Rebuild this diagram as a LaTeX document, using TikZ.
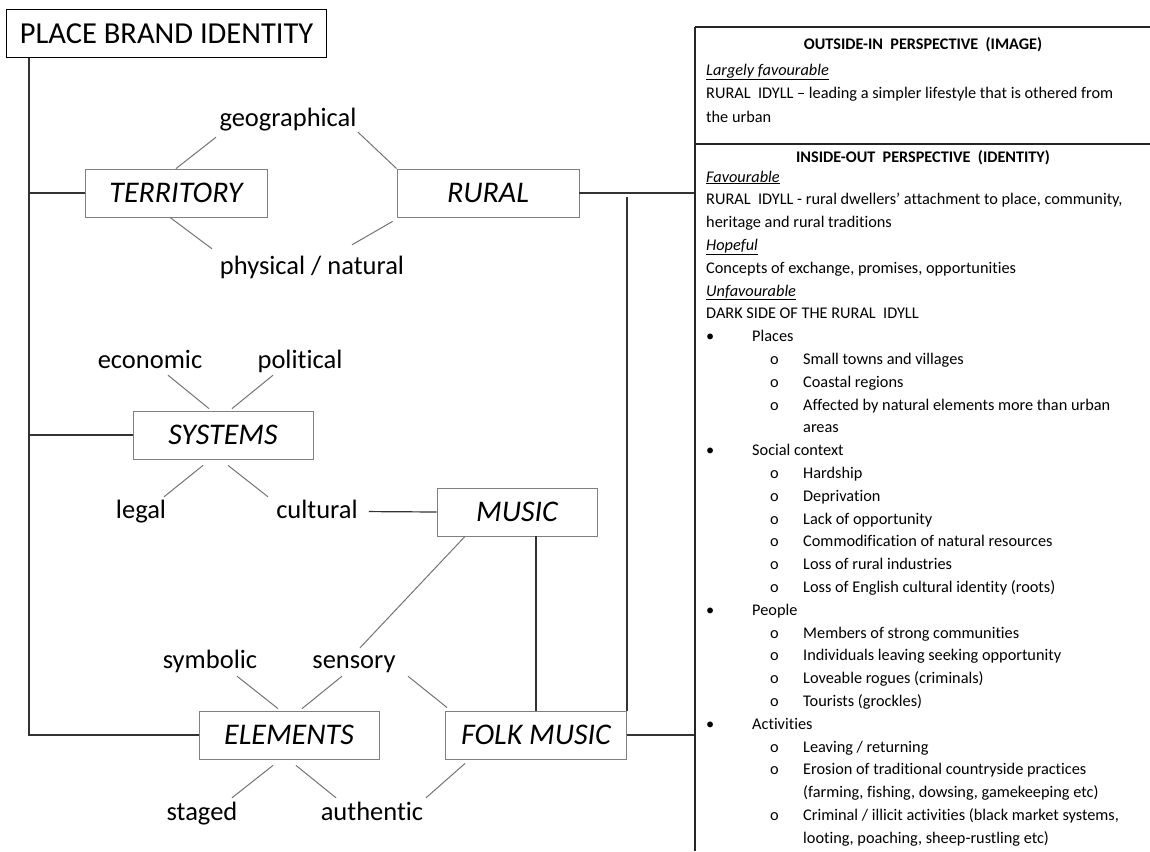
\documentclass[tikz,border=0pt]{standalone}
\usepackage{fontspec}
\setmainfont{Carlito}[Ligatures={TeX,NoCommon}]
\tikzstyle{concept}=[draw=black!50,line width=0.8pt,minimum height=48pt,inner sep=0pt,font=\fontsize{30}{32}\selectfont\itshape,text height=19pt,text depth=0pt]
\tikzstyle{aspect}=[anchor=base,inner sep=1pt,font=\fontsize{26.5}{28}\selectfont,text height=19pt,text depth=6pt]
\tikzstyle{spoke}=[draw=black!55,line width=1pt]
\tikzstyle{link}=[draw=black!80,line width=1.2pt]
\tikzstyle{frame}=[draw=black!85,line width=1.5pt]
\tikzstyle{txt}=[anchor=base west,inner sep=0pt,font=\fontsize{16.3}{18}\selectfont]
\tikzstyle{head}=[anchor=base,inner sep=0pt,font=\fontsize{16.2}{18}\selectfont\bfseries]
\newcommand{\bul}[1]{\makebox[46pt][l]{\textbullet}#1}
\newcommand{\subit}[1]{\hspace*{64pt}\makebox[33pt][l]{o}#1}
\newcommand{\cont}[1]{\hspace*{97pt}#1}
\newcommand{\hd}[1]{\underline{\textit{#1}}}
\begin{document}
\begin{tikzpicture}[x=1pt,y=-1pt]
	\useasboundingbox (0,0) rectangle (1150,851);
	\node(title)[draw,line width=1.2pt,anchor=north west,minimum width=320pt,minimum height=48pt,inner sep=0pt,font=\fontsize{30.5}{32}\selectfont,text height=19.5pt,text depth=0pt] at (6,9) {PLACE BRAND IDENTITY};

	\node(terr)[concept,minimum width=182pt] at (176,193) {TERRITORY};
	\node(rural)[concept,minimum width=182pt] at (488,193) {RURAL};
	\node(sys)[concept,minimum width=180pt] at (223,435) {SYSTEMS};
	\node(music)[concept,minimum width=160pt] at (517,512) {MUSIC};
	\node(elem)[concept,minimum width=180pt] at (289,735) {ELEMENTS};
	\node(folk)[concept,minimum width=181pt] at (536,735) {FOLK MUSIC};

	\node(geo)[aspect] at (288,126) {geographical};
	\node(phys)[aspect] at (312,274) {physical / natural};
	\node(econ)[aspect] at (150,368) {economic};
	\node(poli)[aspect] at (300,368) {political};
	\node(legal)[aspect] at (141,518) {legal};
	\node(cult)[aspect] at (317,518) {cultural};
	\node(symb)[aspect] at (210,668) {symbolic};
	\node(sens)[aspect] at (354,668) {sensory};
	\node(staged)[aspect] at (202,820) {staged};
	\node(auth)[aspect] at (372,820) {authentic};

	% spokes
	\draw[spoke] (terr.north) -- ([shift={(-72,4)}]geo.south);
	\draw[spoke] ([shift={(70,-1)}]geo.south) -- (rural.north west);
	\draw[spoke] ([shift={(-6,0)}]terr.south) -- ([shift={(-100,-5)}]phys.north);
	\draw[spoke] ([shift={(40,-9)}]phys.north) -- ([shift={(-4,4)}]rural.south west);
	\draw[spoke] ([shift={(18,0)}]econ.south) -- ([shift={(-14,-2)}]sys.north);
	\draw[spoke] ([shift={(-27,0)}]poli.south) -- ([shift={(9,-2)}]sys.north);
	\draw[spoke] ([shift={(-20,6)}]sys.south) -- ([shift={(23,-1)}]legal.north);
	\draw[spoke] ([shift={(5,6)}]sys.south) -- ([shift={(-49,-1)}]cult.north);
	\draw[spoke] ([shift={(27,1)}]symb.south) -- ([shift={(-11,-2)}]elem.north);
	\draw[spoke] ([shift={(-12,1)}]sens.south) -- ([shift={(13,-2)}]elem.north);
	\draw[spoke] ([shift={(54,1)}]sens.south) -- ([shift={(2,-3)}]folk.north west);
	\draw[spoke] ([shift={(-16,6)}]elem.south) -- ([shift={(30,-2)}]staged.north);
	\draw[spoke] ([shift={(7,6)}]elem.south) -- ([shift={(-36,-2)}]auth.north);
	\draw[spoke] ([shift={(54,-2)}]auth.north) -- ([shift={(20,4)}]folk.south west);
	\draw[spoke] ([shift={(-52,0)}]music.south) -- ([shift={(6,0)}]sens.north);

	% links
	\coordinate(spine) at ([xshift=23pt]title.south west);
	\coordinate(ptop) at (695,27);
	\coordinate(rtap) at ([yshift=-4pt]rural.east);
	\draw[link] (spine) |- (elem.west);
	\draw[link] (terr.west) -- (terr.west -| spine);
	\draw[link] (sys.west) -- (sys.west -| spine);
	\draw[link,shorten <=10pt] (cult.east) -- (music.west);
	\draw[link] (folk.north) -- (folk.north |- music.south);
	\draw[link] (folk.north east) -- (folk.north east |- rtap);
	\draw[link] (rural.east) -- (rural.east -| ptop);
	\draw[link] (folk.east) -- (folk.east -| ptop);

	% perspectives panel
	\draw[frame] (ptop) -- (1150,27);
	\draw[frame] (ptop) -- (695,851);
	\draw[frame] (695,144) -- (1150,144);
	\node(outhead)[head] at (923,50) {OUTSIDE-IN\ \ PERSPECTIVE\ \ (IMAGE)};
	\node(inhead)[head] at (923,162) {INSIDE-OUT\ \ PERSPECTIVE\ \ (IDENTITY)};
	\foreach \ln [count=\i from 0] in {\hd{Largely favourable},
			{RURAL\ \ IDYLL \textendash\ leading a simpler lifestyle that is othered from},
			the urban}
		\node(out\i)[txt] at (706,75+23.5*\i) {\ln};
	\foreach \ln [count=\i from 0] in {\hd{Favourable},
			{RURAL\ \ IDYLL - rural dwellers' attachment to place, community,},
			heritage and rural traditions,
			\hd{Hopeful},
			{Concepts of exchange, promises, opportunities},
			\hd{Unfavourable},
			DARK SIDE OF THE RURAL\ \ IDYLL,
			\bul{Places},
			\subit{Small towns and villages},
			\subit{Coastal regions},
			\subit{Affected\ by natural elements more than urban},
			\cont{areas},
			\bul{Social context},
			\subit{Hardship},
			\subit{Deprivation},
			\subit{Lack of opportunity},
			\subit{Commodification of natural resources},
			\subit{Loss of rural industries},
			\subit{Loss of English cultural identity (roots)},
			\bul{People},
			\subit{Members\ of strong communities},
			\subit{Individuals leaving seeking opportunity},
			\subit{Loveable rogues (criminals)},
			\subit{Tourists (grockles)},
			\bul{Activities},
			\subit{Leaving / returning},
			\subit{Erosion of traditional countryside practices},
			\cont{(farming, fishing, dowsing, gamekeeping\ etc)},
			\subit{Criminal / illicit activities (black market systems,},
			\cont{looting, poaching, sheep-rustling etc)}}
		\node(in\i)[txt] at (706,182+22.8*\i) {\ln};
\end{tikzpicture}
\end{document}
